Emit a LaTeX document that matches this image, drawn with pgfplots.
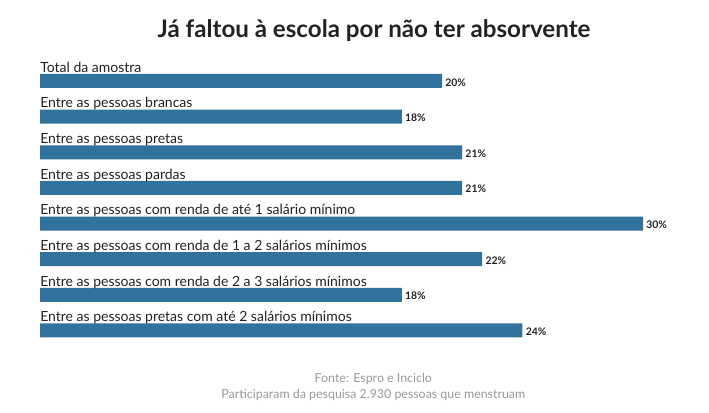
\documentclass[border=0pt]{standalone}
\usepackage{pgfplots}
\pgfplotsset{compat=1.18}
\usepackage{fontspec}
\setmainfont{Lato}
\definecolor{barblue}{HTML}{32739E}
\definecolor{txt}{HTML}{222222}
\definecolor{foot}{HTML}{999999}
\begin{document}
\begin{tikzpicture}
\path (0,0) rectangle (531.75pt,309.75pt);
\node[font=\fontsize{18.1pt}{22pt}\selectfont\bfseries, text=txt] at (280.5pt,286.5pt) {Já faltou à escola por não ter absorvente};
\begin{axis}[
  at={(30pt,249pt)}, anchor=north west,
  scale only axis, width=452.25pt, height=187.1pt,
  xmin=0, xmax=30, ymin=0, ymax=7,
  enlargelimits=false, y dir=reverse,
  axis lines=none, clip=false,
  xbar, bar width=0.393,
  /pgf/number format/assume math mode=true,
  nodes near coords={\pgfmathprintnumber{\pgfplotspointmeta}\%},
  nodes near coords style={font=\fontsize{7.8pt}{9pt}\selectfont\bfseries, text=txt, anchor=west, xshift=-1pt, yshift=-1pt},
  point meta=x,
]
\addplot[fill=barblue, draw=none] coordinates {
(20,0) (18,1) (21,2) (21,3) (30,4) (22,5) (18,6) (24,7)};
\tikzset{lab/.style={anchor=base west, inner sep=0pt, font=\fontsize{10.5pt}{12pt}\selectfont, text=txt, yshift=6.5pt}}
\node[lab] at (axis cs:0,0) {Total da amostra};
\node[lab] at (axis cs:0,1) {Entre as pessoas brancas};
\node[lab] at (axis cs:0,2) {Entre as pessoas pretas};
\node[lab] at (axis cs:0,3) {Entre as pessoas pardas};
\node[lab] at (axis cs:0,4) {Entre as pessoas com renda de até 1 salário mínimo};
\node[lab] at (axis cs:0,5) {Entre as pessoas com renda de 1 a 2 salários mínimos};
\node[lab] at (axis cs:0,6) {Entre as pessoas com renda de 2 a 3 salários mínimos};
\node[lab] at (axis cs:0,7) {Entre as pessoas pretas com até 2 salários mínimos};
\end{axis}
\node[font=\fontsize{9.3pt}{10pt}\selectfont, text=foot] at (280pt,25.5pt) {Fonte: Espro e Inciclo};
\node[font=\fontsize{9.3pt}{10pt}\selectfont, text=foot] at (280pt,13.5pt) {Participaram da pesquisa 2.930 pessoas que menstruam};
\end{tikzpicture}
\end{document}
